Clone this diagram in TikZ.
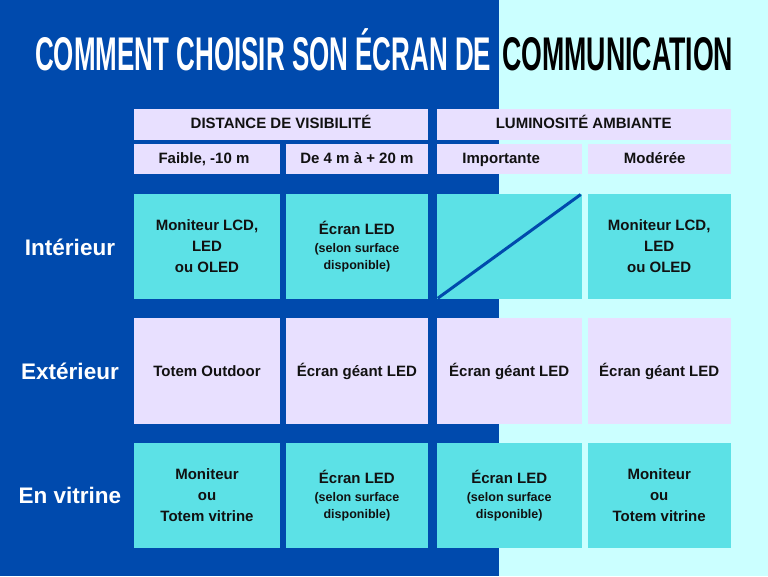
\documentclass[tikz,border=0pt]{standalone}
\usepackage{fontspec}
\setmainfont{Liberation Sans}
\usepackage{graphicx}
\definecolor{bgblue}{HTML}{004AAD}
\definecolor{bgcyan}{HTML}{CBFFFF}
\definecolor{cellcyan}{HTML}{5CE1E6}
\definecolor{lav}{HTML}{E8E0FF}
\definecolor{ink}{HTML}{111111}
\tikzset{
  box/.style={inner sep=0pt, outer sep=0pt, text=ink, align=center,
    font=\fontsize{15}{18}\selectfont\bfseries},
  cyancell/.style={box, fill=cellcyan},
  lavcell/.style={box, fill=lav},
  headcell/.style={lavcell, text height=9pt, text depth=0pt},
  subcell/.style={lavcell, text height=8.3pt, text depth=0pt},
  rowlabel/.style={inner sep=0pt, text=white, font=\fontsize{22.5}{26}\selectfont\bfseries},
}
\newcommand{\smallline}[1]{{\fontsize{12.5}{15}\selectfont #1}}
\begin{document}
\begin{tikzpicture}[x=1pt,y=-1pt]
\useasboundingbox (0,0) rectangle (768,576);
\fill[bgblue] (0,0) rectangle (499,576);
\fill[bgcyan] (499,0) rectangle (768,576);

% title
\node[anchor=west, inner sep=0pt, text=white] (title1) at (35,54.5)
  {\resizebox{456pt}{33pt}{\bfseries COMMENT CHOISIR SON \smash{É}CRAN DE}};
\node[anchor=west, inner sep=0pt, text=black] (title2) at (502,54.5)
  {\resizebox{231pt}{33pt}{\bfseries COMMUNICATION}};

% headers
\node[headcell, minimum width=294, minimum height=30.2] (hdist) at (281,124.4) {DISTANCE DE VISIBILITÉ};
\node[headcell, minimum width=294, minimum height=30.2] (hlum) at (583.7,124.4) {LUMINOSITÉ AMBIANTE};
\node[subcell, minimum width=146, minimum height=30.3] (s1) at (207,159.15) {Faible, -10 m\hspace*{6pt}};
\node[subcell, minimum width=141.2, minimum height=30.3] (s2) at (356.9,159.15) {De 4 m à + 20 m};
\node[subcell, minimum width=145, minimum height=30.3] (s3) at (509.2,159.15) {Importante\hspace*{16pt}};
\node[subcell, minimum width=143, minimum height=30.3] (s4) at (659.2,159.15) {Modérée\hspace*{9pt}};

% row labels
\node[rowlabel] (lint) at (70,247) {Intérieur};
\node[rowlabel] (lext) at (70,371.5) {Extérieur};
\node[rowlabel] (lvit) at (70,495.5) {En vitrine};

% row 1
\node[cyancell, minimum width=146, minimum height=105.8] (c11) at (207,246.4)
  {Moniteur LCD,\\[3pt] LED\\[3pt] ou OLED};
\node[cyancell, minimum width=141.2, minimum height=105.8] (c12) at (356.9,246.4)
  {Écran LED\\[0.4pt]\smallline{(selon surface}\\[-1.7pt]\smallline{disponible)}};
\node[cyancell, minimum width=145, minimum height=105.8] (c13) at (509.2,246.4) {};
\node[cyancell, minimum width=143, minimum height=105.8] (c14) at (659.2,246.4)
  {Moniteur LCD,\\[3pt] LED\\[3pt] ou OLED};
\draw[bgblue, line width=3pt] ([shift={(1,-1)}]c13.south west) -- ([shift={(-1,1)}]c13.north east);

% row 2
\node[lavcell, minimum width=146, minimum height=105.7] (c21) at (207,371.15) {Totem Outdoor};
\node[lavcell, minimum width=141.2, minimum height=105.7] (c22) at (356.9,371.15) {Écran géant LED};
\node[lavcell, minimum width=145, minimum height=105.7] (c23) at (509.2,371.15) {Écran géant LED};
\node[lavcell, minimum width=143, minimum height=105.7] (c24) at (659.2,371.15) {Écran géant LED};

% row 3
\node[cyancell, minimum width=146, minimum height=105.3] (c31) at (207,495.35)
  {Moniteur\\[3pt] ou\\[3pt] Totem vitrine};
\node[cyancell, minimum width=141.2, minimum height=105.3] (c32) at (356.9,495.35)
  {Écran LED\\[0.4pt]\smallline{(selon surface}\\[-1.7pt]\smallline{disponible)}};
\node[cyancell, minimum width=145, minimum height=105.3] (c33) at (509.2,495.35)
  {Écran LED\\[0.4pt]\smallline{(selon surface}\\[-1.7pt]\smallline{disponible)}};
\node[cyancell, minimum width=143, minimum height=105.3] (c34) at (659.2,495.35)
  {Moniteur\\[3pt] ou\\[3pt] Totem vitrine};
\end{tikzpicture}
\end{document}
